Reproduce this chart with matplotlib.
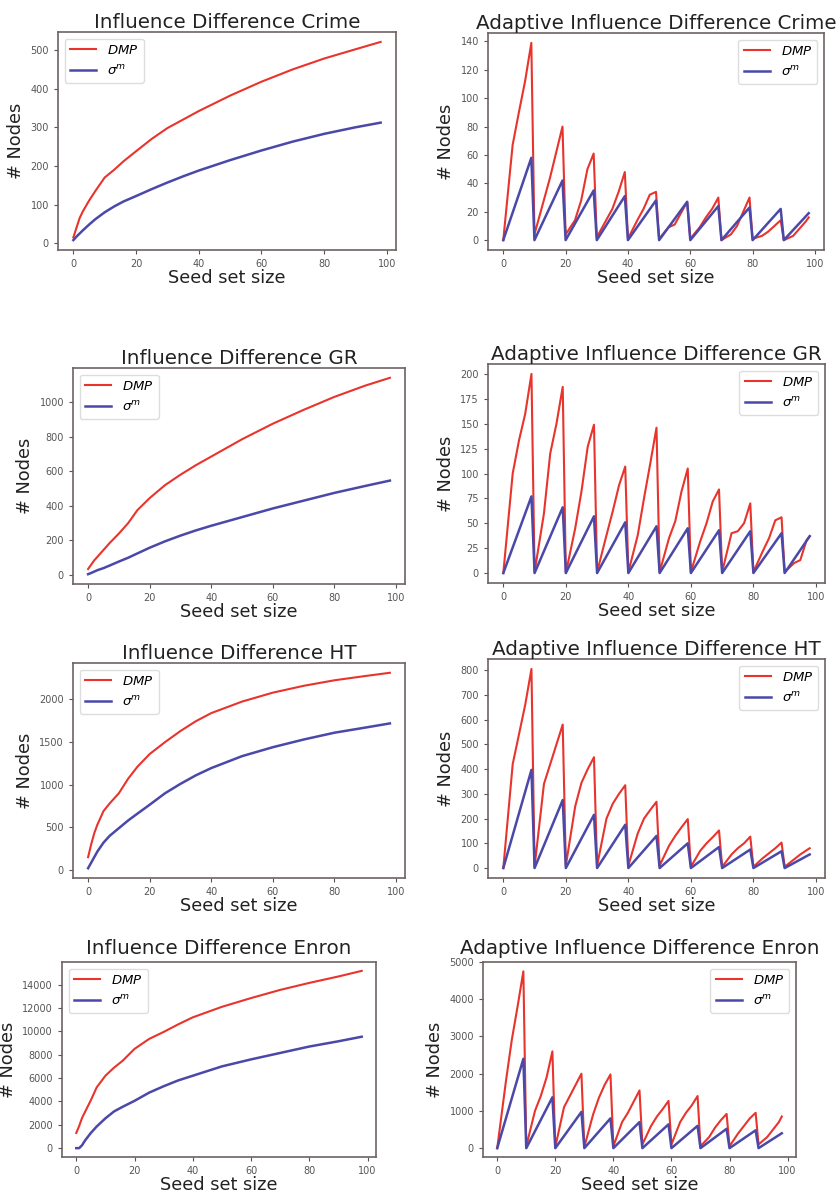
#Influence difference plots, non adaptive vs adaptive

import numpy as np
import matplotlib
matplotlib.use("Agg")
import matplotlib.pyplot as plt

# seed set sizes for the cumulative curves
x_cum = [0, 1, 2, 3, 5, 7, 10, 13, 16, 20, 25, 30, 35, 40, 50, 60, 70, 80, 90, 98]

crime_dmp = [15, 40, 65, 82, 110, 135, 170, 190, 212, 238, 270, 298, 320, 342, 382, 418, 450, 478, 502, 521]
crime_sig = [8, 17, 25, 33, 48, 62, 80, 95, 108, 122, 140, 157, 173, 188, 215, 240, 263, 283, 300, 312]

gr_dmp = [35, 60, 85, 105, 145, 185, 240, 300, 375, 445, 520, 580, 635, 685, 785, 875, 955, 1030, 1095, 1140]
gr_sig = [5, 12, 20, 28, 40, 55, 78, 100, 125, 158, 195, 228, 258, 285, 335, 385, 430, 475, 515, 546]

ht_dmp = [150, 300, 430, 530, 690, 780, 900, 1070, 1210, 1360, 1500, 1630, 1745, 1840, 1975, 2080, 2160, 2225, 2275, 2313]
ht_sig = [20, 85, 150, 215, 320, 400, 490, 580, 660, 765, 900, 1010, 1110, 1195, 1335, 1440, 1530, 1610, 1670, 1719]

enron_dmp = [1300, 1900, 2600, 3100, 4100, 5200, 6200, 6900, 7500, 8500, 9350, 9950, 10600, 11200, 12100, 12850, 13550, 14150, 14700, 15180]
enron_sig = [0, 0, 250, 650, 1300, 1850, 2550, 3150, 3550, 4050, 4750, 5300, 5800, 6200, 7000, 7600, 8150, 8700, 9150, 9540]

# adaptive: DMP sampled inside every block of 10 seeds
x_ad_dmp = [0, 3, 5, 7, 9, 10, 13, 15, 17, 19, 20, 23, 25, 27, 29, 30, 33, 35, 37, 39,
            40, 43, 45, 47, 49, 50, 53, 55, 57, 59, 60, 63, 65, 67, 69, 70, 73, 75, 77, 79,
            80, 83, 85, 87, 89, 90, 93, 95, 97, 98]
# sigma^m is a straight ramp in each block
x_ad_sig = [0, 9, 10, 19, 20, 29, 30, 39, 40, 49, 50, 59, 60, 69, 70, 79, 80, 89, 90, 98]

crime_ad_dmp = [0, 67, 90, 112, 139, 4, 28, 44, 62, 80, 4, 14, 28, 50, 61, 2, 14, 22, 34, 48,
                1, 14, 22, 32, 34, 1, 9, 11, 19, 27, 1, 9, 16, 22, 30, 0, 4, 10, 20, 30,
                1, 3, 6, 10, 14, 0, 3, 8, 13, 16]
crime_ad_sig = [0, 58, 0, 42, 0, 35, 0, 31, 0, 28, 0, 27, 0, 24, 0, 23, 0, 22, 0, 19]

gr_ad_dmp = [0, 100, 133, 160, 200, 1, 60, 120, 150, 187, 0, 45, 82, 127, 149, 1, 38, 62, 88, 107,
             1, 38, 75, 110, 146, 1, 35, 52, 82, 105, 1, 32, 50, 72, 84, 1, 40, 42, 50, 70,
             1, 22, 35, 53, 56, 1, 10, 13, 33, 37]
gr_ad_sig = [0, 77, 0, 66, 0, 57, 0, 51, 0, 47, 0, 45, 0, 43, 0, 42, 0, 40, 0, 37]

ht_ad_dmp = [0, 420, 540, 660, 805, 5, 340, 420, 500, 580, 10, 250, 345, 400, 448, 10, 200, 260, 300, 335,
             10, 140, 200, 235, 268, 10, 90, 130, 165, 198, 5, 70, 100, 125, 152, 5, 55, 80, 100, 127,
             5, 40, 60, 80, 103, 5, 35, 55, 72, 80]
ht_ad_sig = [0, 397, 0, 275, 0, 215, 0, 175, 0, 130, 0, 100, 0, 85, 0, 75, 0, 68, 0, 55]

enron_ad_dmp = [0, 1800, 2900, 3800, 4750, 50, 1000, 1400, 1900, 2600, 30, 1100, 1400, 1700, 2000,
                30, 900, 1350, 1700, 1980, 50, 700, 950, 1250, 1550, 100, 600, 850, 1050, 1270,
                100, 700, 950, 1150, 1400, 50, 300, 550, 750, 920, 50, 400, 600, 800, 950,
                100, 300, 500, 700, 850]
enron_ad_sig = [0, 2400, 0, 1365, 0, 974, 0, 800, 0, 700, 0, 640, 0, 600, 0, 520, 0, 480, 0, 400]

RED = '#e8342c'
BLUE = '#4a48a8'
W, H = 838.0, 1196.0


def make_axes(fig, x0, x1, y0, y1):
    # pixel box of the frame -> figure fraction
    return fig.add_axes([x0 / W, 1 - y1 / H, (x1 - x0) / W, (y1 - y0) / H])


def draw(ax, xd, yd, xs, ys, title, loc, tpad=3):
    ax.plot(xd, yd, color=RED, lw=1.5, label='$DMP$')
    ax.plot(xs, ys, color=BLUE, lw=1.8, label=r'$\sigma^m$')
    ax.set_title(title, fontsize=14.3, color='#222222', pad=tpad)
    ax.set_xlabel('Seed set size', fontsize=12.8, color='#222222', labelpad=0)
    ax.set_ylabel('# Nodes', fontsize=12.8, color='#222222')
    ax.set_xticks([0, 20, 40, 60, 80, 100])
    ax.tick_params(labelsize=7, colors='#555555', length=3)
    for s in ax.spines.values():
        s.set_color('#6e6262')
        s.set_linewidth(1.2)
    ax.legend(loc=loc, fontsize=9.5, framealpha=1, edgecolor='#dddddd', fancybox=True)


fig = plt.figure(figsize=(8.38, 11.96), dpi=100)

ax = make_axes(fig, 58, 396, 32, 250)
draw(ax, x_cum, crime_dmp, x_cum, crime_sig, 'Influence Difference Crime', 'upper left')
ax = make_axes(fig, 488, 824, 33, 250)
draw(ax, x_ad_dmp, crime_ad_dmp, x_ad_sig, crime_ad_sig, 'Adaptive Influence Difference Crime', 'upper right')

ax = make_axes(fig, 73, 405, 368, 584)
draw(ax, x_cum, gr_dmp, x_cum, gr_sig, 'Influence Difference GR', 'upper left')
ax = make_axes(fig, 488, 825, 364, 583)
draw(ax, x_ad_dmp, gr_ad_dmp, x_ad_sig, gr_ad_sig, 'Adaptive Influence Difference GR', 'upper right')

ax = make_axes(fig, 73, 405, 663, 878)
draw(ax, x_cum, ht_dmp, x_cum, ht_sig, 'Influence Difference HT', 'upper left')
ax = make_axes(fig, 488, 825, 659, 878)
draw(ax, x_ad_dmp, ht_ad_dmp, x_ad_sig, ht_ad_sig, 'Adaptive Influence Difference HT', 'upper right')

# bottom row sits a little lower in the page, keep the labels inside
ax = make_axes(fig, 62, 376, 962, 1157)
draw(ax, x_cum, enron_dmp, x_cum, enron_sig, 'Influence Difference Enron', 'upper left', tpad=6)
ax = make_axes(fig, 483, 796, 962, 1157)
draw(ax, x_ad_dmp, enron_ad_dmp, x_ad_sig, enron_ad_sig, 'Adaptive Influence Difference Enron', 'upper right', tpad=6)
ax.set_yticks([0, 1000, 2000, 3000, 4000, 5000])

fig.savefig('out.png', dpi=100)
